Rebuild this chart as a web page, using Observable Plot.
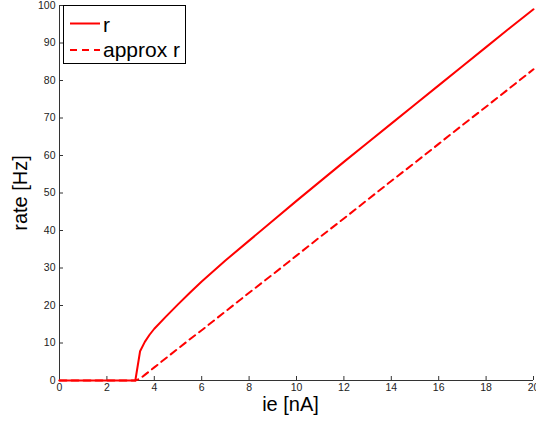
<!DOCTYPE html>
<html>
<head>
<meta charset="utf-8">
<script src="https://cdn.jsdelivr.net/npm/d3@7"></script>
<script src="https://cdn.jsdelivr.net/npm/@observablehq/plot@0.6"></script>
<style>
  html, body { margin: 0; padding: 0; background: white; }
  #wrap { position: relative; width: 536px; height: 423px; overflow: hidden; font-family: "Liberation Sans", Arial, sans-serif; }
  #legend { position: absolute; left: 63px; top: 5px; }
</style>
</head>
<body>
<div id="wrap"></div>
<script>
// Data
const ie = [0, 1, 2, 3, 3.2, 3.4, 3.6, 3.8, 4, 4.5, 5, 5.5, 6, 7, 8, 9, 10, 11, 12, 13, 14, 15, 16, 17, 18, 19, 20];
const rateR = [0, 0, 0, 0, 0, 7.8, 10.3, 12.2, 13.8, 17.1, 20.3, 23.4, 26.4, 32.0, 37.3, 42.6, 47.9, 53.1, 58.3, 63.4, 68.5, 73.6, 78.7, 83.8, 88.9, 94.0, 99];
const rateApprox = [0, 0, 0, 0, 0, 0.5, 1.5, 2.5, 3.5, 6, 8.5, 11, 13.4, 18.4, 23.4, 28.3, 33.3, 38.3, 43.2, 48.2, 53.2, 58.1, 63.1, 68.1, 73, 78, 83];
const xTicks = [0, 2, 4, 6, 8, 10, 12, 14, 16, 18, 20];
const yTicks = [0, 10, 20, 30, 40, 50, 60, 70, 80, 90, 100];
const seriesNames = ["r", "approx r"];
const xLabel = "ie [nA]";
const yLabel = "rate [Hz]";

const rData = ie.map((x, i) => ({x, y: rateR[i]}));
const aData = ie.map((x, i) => ({x, y: rateApprox[i]}));

const font = "Liberation Sans, Arial, sans-serif";
const axisColor = "#333";

const chart = Plot.plot({
  width: 536,
  height: 423,
  marginLeft: 59,
  marginRight: 3,
  marginTop: 5,
  marginBottom: 43,
  style: {fontFamily: font, background: "white", overflow: "visible"},
  x: {domain: [0, 20]},
  y: {domain: [0, 100]},
  marks: [
    // axis lines
    Plot.ruleX([0], {stroke: axisColor, strokeWidth: 1}),
    Plot.ruleY([0], {stroke: axisColor, strokeWidth: 1}),
    // inward ticks
    Plot.tickX(xTicks, {x: d => d, insetTop: 371, stroke: axisColor, strokeWidth: 1}),
    Plot.tickY(yTicks, {y: d => d, insetRight: 470, stroke: axisColor, strokeWidth: 1}),
    // tick labels
    Plot.axisX({ticks: xTicks, tickSize: 0, tickPadding: 3, label: null, fontSize: 10.5, fill: "#222"}),
    Plot.axisY({ticks: yTicks, tickSize: 0, tickPadding: 4, label: null, fontSize: 10.5, fill: "#222"}),
    // data
    Plot.line(aData, {x: "x", y: "y", stroke: "#ff0000", strokeWidth: 2, strokeDasharray: "7,5"}),
    Plot.line(rData, {x: "x", y: "y", stroke: "#ff0000", strokeWidth: 2}),
    // axis titles
    Plot.text([xLabel], {frameAnchor: "bottom", dy: 24, dx: -6, lineAnchor: "middle", textAnchor: "middle", fontSize: 20, fill: "black"}),
    Plot.text([yLabel], {frameAnchor: "left", dx: -39, rotate: -90, lineAnchor: "middle", textAnchor: "middle", fontSize: 20, fill: "black"})
  ]
});

const wrap = document.getElementById("wrap");
wrap.appendChild(chart);

// Legend (inside the axes, top-left)
const ns = "http://www.w3.org/2000/svg";
const lg = document.createElementNS(ns, "svg");
lg.setAttribute("id", "legend");
lg.setAttribute("width", 123);
lg.setAttribute("height", 59);
const styles = [{dash: null}, {dash: "7,5"}];
const bg = document.createElementNS(ns, "rect");
bg.setAttribute("x", 0.5); bg.setAttribute("y", 0.5);
bg.setAttribute("width", 122); bg.setAttribute("height", 58);
bg.setAttribute("fill", "white"); bg.setAttribute("stroke", "black"); bg.setAttribute("stroke-width", 1);
lg.appendChild(bg);
seriesNames.forEach((name, i) => {
  const ly = i === 0 ? 18.5 : 45;
  const ty = i === 0 ? 26.5 : 52;
  const ln = document.createElementNS(ns, "line");
  ln.setAttribute("x1", 7); ln.setAttribute("x2", 37);
  ln.setAttribute("y1", ly); ln.setAttribute("y2", ly);
  ln.setAttribute("stroke", "#ff0000"); ln.setAttribute("stroke-width", 2);
  if (styles[i].dash) ln.setAttribute("stroke-dasharray", styles[i].dash);
  lg.appendChild(ln);
  const t = document.createElementNS(ns, "text");
  t.setAttribute("x", 40); t.setAttribute("y", ty);
  t.setAttribute("font-family", font);
  t.setAttribute("font-size", 21);
  t.textContent = name;
  lg.appendChild(t);
});
wrap.appendChild(lg);
</script>
</body>
</html>
